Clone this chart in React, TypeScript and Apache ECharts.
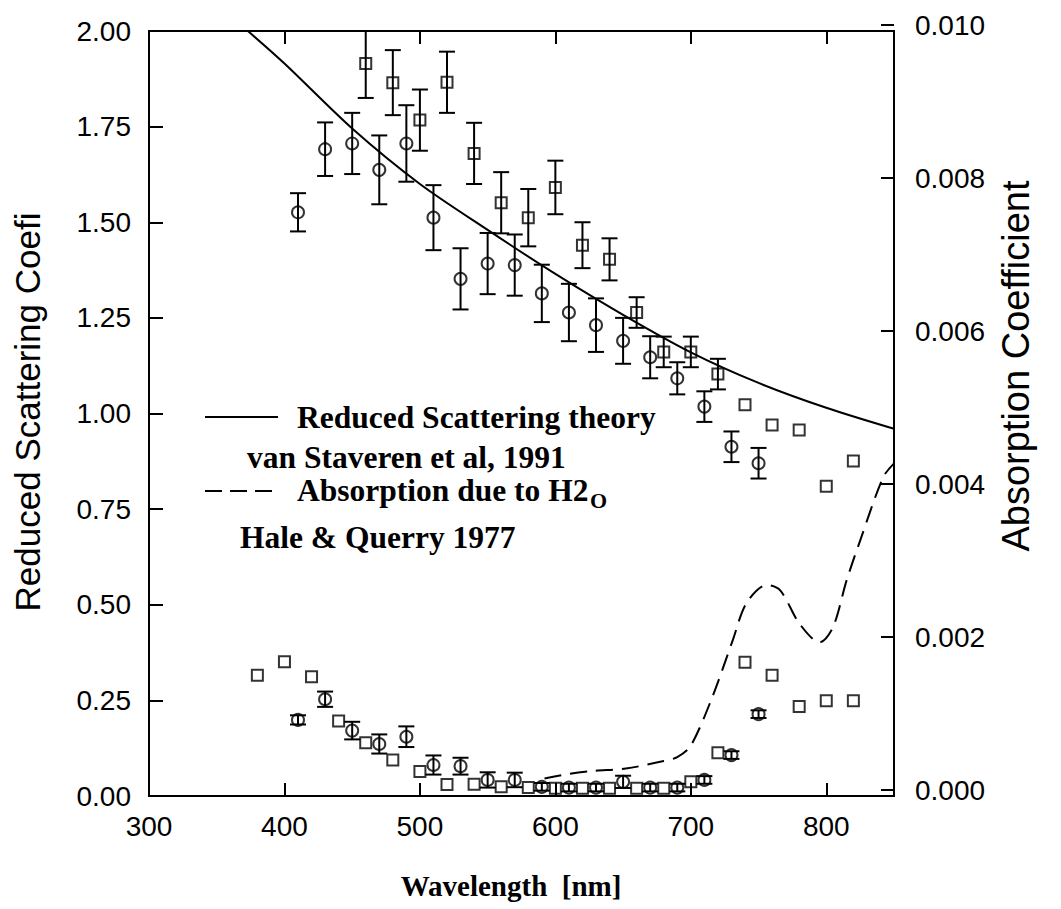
import React, { useEffect, useRef } from "react";
import * as echarts from "echarts";

// ---- data ----
const theoryWl = [373, 400, 450, 500, 550, 600, 650, 700, 750, 800, 850];
const theoryVal = [2.0, 1.915, 1.745, 1.6, 1.48, 1.365, 1.258, 1.16, 1.08, 1.015, 0.96];

const absWl = [592, 610, 628, 652, 680, 690, 700, 716, 731, 741, 756, 766, 780, 795, 805, 815, 825, 842, 850];
const absVal = [0.00015, 0.00021, 0.00025, 0.00028, 0.00038, 0.00043, 0.00058, 0.00122, 0.00196, 0.00244, 0.00268, 0.00261, 0.00218, 0.00193, 0.00213, 0.00274, 0.00326, 0.00409, 0.00427];

const upperCircleWl = [410, 430, 450, 470, 490, 510, 530, 550, 570, 590, 610, 630, 650, 670, 690, 710, 730, 750];
const upperCircleVal = [1.526, 1.691, 1.706, 1.637, 1.706, 1.512, 1.352, 1.392, 1.388, 1.314, 1.264, 1.231, 1.19, 1.147, 1.092, 1.018, 0.913, 0.87];
const upperCircleErr = [0.05, 0.07, 0.08, 0.09, 0.1, 0.085, 0.08, 0.08, 0.08, 0.075, 0.075, 0.07, 0.06, 0.055, 0.042, 0.04, 0.04, 0.04];

const upperSquareWl = [460, 480, 500, 520, 540, 560, 580, 600, 620, 640, 660, 680, 700, 720, 740, 760, 780, 800, 820];
const upperSquareVal = [1.915, 1.865, 1.767, 1.866, 1.68, 1.551, 1.512, 1.591, 1.44, 1.403, 1.264, 1.161, 1.161, 1.103, 1.023, 0.97, 0.957, 0.81, 0.876];
const upperSquareErr = [0.09, 0.085, 0.08, 0.08, 0.08, 0.08, 0.075, 0.07, 0.06, 0.055, 0.04, 0.04, 0.04, 0.04, 0, 0, 0, 0, 0];

const lowerSquareWl = [380, 400, 420, 440, 460, 480, 500, 520, 540, 560, 580, 600, 620, 640, 660, 680, 700, 720, 740, 760, 780, 800, 820];
const lowerSquareVal = [0.316, 0.351, 0.312, 0.196, 0.139, 0.094, 0.064, 0.03, 0.031, 0.024, 0.022, 0.02, 0.02, 0.02, 0.02, 0.02, 0.037, 0.113, 0.35, 0.316, 0.234, 0.249, 0.249];

const lowerCircleWl = [410, 430, 450, 470, 490, 510, 530, 550, 570, 590, 610, 630, 650, 670, 690, 710, 730, 750];
const lowerCircleVal = [0.199, 0.253, 0.171, 0.136, 0.155, 0.081, 0.078, 0.042, 0.042, 0.024, 0.022, 0.022, 0.037, 0.022, 0.022, 0.042, 0.107, 0.214];
const lowerCircleErr = [0.012, 0.02, 0.023, 0.025, 0.027, 0.025, 0.022, 0.02, 0.019, 0.01, 0.01, 0.01, 0.016, 0.01, 0.01, 0.01, 0.01, 0.01];

const leftTickLabels = ["0.00", "0.25", "0.50", "0.75", "1.00", "1.25", "1.50", "1.75", "2.00"];
const rightTickLabels = ["0.000", "0.002", "0.004", "0.006", "0.008", "0.010"];

// ---- helpers ----
const pairs = (xs: number[], ys: number[]) => xs.map((x, i) => [x, ys[i]]);
const errTriples = (xs: number[], ys: number[], es: number[]) =>
  xs
    .map((x, i) => [x, ys[i] - es[i], ys[i] + es[i], es[i]])
    .filter((d) => d[3] > 0)
    .map((d) => [d[0], d[1], d[2]]);

const SANS = "'Liberation Sans', Arial, Helvetica, sans-serif";
const SERIF = "'Liberation Serif', 'Times New Roman', serif";

const errorRender = (params: any, api: any) => {
  const x = api.value(0);
  const lo = api.value(1);
  const hi = api.value(2);
  const pHi = api.coord([x, hi]);
  const pLo = api.coord([x, lo]);
  const w = 8;
  const st = { stroke: "#000", lineWidth: 2 };
  return {
    type: "group",
    children: [
      { type: "line", shape: { x1: pHi[0], y1: pHi[1], x2: pLo[0], y2: pLo[1] }, style: st },
      { type: "line", shape: { x1: pHi[0] - w, y1: pHi[1], x2: pHi[0] + w, y2: pHi[1] }, style: st },
      { type: "line", shape: { x1: pLo[0] - w, y1: pLo[1], x2: pLo[0] + w, y2: pLo[1] }, style: st },
    ],
  };
};

const textEl = (
  text: string,
  x: number,
  y: number,
  size: number,
  family: string,
  weight: string,
  align: string,
  rotation = 0
) => ({
  type: "text",
  x,
  y,
  rotation,
  silent: true,
  style: {
    text,
    fill: "#000",
    fontSize: size,
    fontFamily: family,
    fontWeight: weight,
    align,
    verticalAlign: "middle",
    textAlign: align,
    textVerticalAlign: "middle",
  },
});

export default function App() {
  const ref = useRef<HTMLDivElement>(null);

  useEffect(() => {
    document.body.style.margin = "0";
    if (!ref.current) return;
    const chart = echarts.init(ref.current, null, { renderer: "svg" });

    const axisLine = { show: true, onZero: false, lineStyle: { color: "#000", width: 2 } };
    const tick = (len: number) => ({ show: true, inside: true, length: len, lineStyle: { color: "#000", width: 2 } });
    const labelStyle = { color: "#000", fontSize: 28, fontFamily: SANS };

    const scatterStyle = { color: "rgba(0,0,0,0)", borderColor: "#000", borderWidth: 2 };

    const option: any = {
      animation: false,
      backgroundColor: "#fff",
      grid: [
        { left: 149, top: 31, width: 745, height: 765, show: true, borderColor: "#000", borderWidth: 2, backgroundColor: "transparent" },
        { left: 149, top: 25, width: 745, height: 765, show: false },
      ],
      xAxis: [
        {
          gridIndex: 0,
          type: "value",
          min: 300,
          max: 850,
          interval: 100,
          position: "bottom",
          axisLine,
          axisTick: tick(13),
          axisLabel: { ...labelStyle, margin: 16, showMaxLabel: false },
          splitLine: { show: false },
        },
        {
          gridIndex: 0,
          type: "value",
          min: 300,
          max: 850,
          interval: 100,
          position: "top",
          axisLine,
          axisTick: tick(13),
          axisLabel: { show: false },
          splitLine: { show: false },
        },
        { gridIndex: 1, type: "value", min: 300, max: 850, show: false },
      ],
      yAxis: [
        {
          gridIndex: 0,
          type: "value",
          min: 0,
          max: 2,
          interval: 0.25,
          position: "left",
          axisLine,
          axisTick: tick(14),
          axisLabel: {
            ...labelStyle,
            margin: 18,
            formatter: (v: number) => leftTickLabels[Math.round(v / 0.25)] ?? "",
          },
          splitLine: { show: false },
        },
        {
          gridIndex: 1,
          type: "value",
          min: 0,
          max: 0.01,
          interval: 0.002,
          position: "right",
          axisLine: { show: false },
          axisTick: tick(13),
          axisLabel: {
            ...labelStyle,
            margin: 21,
            formatter: (v: number) => rightTickLabels[Math.round(v / 0.002)] ?? "",
          },
          splitLine: { show: false },
        },
      ],
      series: [
        {
          type: "custom",
          xAxisIndex: 0,
          yAxisIndex: 0,
          renderItem: errorRender,
          data: errTriples(upperCircleWl, upperCircleVal, upperCircleErr),
          silent: true,
          clip: true,
          z: 3,
        },
        {
          type: "custom",
          xAxisIndex: 0,
          yAxisIndex: 0,
          renderItem: errorRender,
          data: errTriples(upperSquareWl, upperSquareVal, upperSquareErr),
          silent: true,
          clip: true,
          z: 3,
        },
        {
          type: "custom",
          xAxisIndex: 0,
          yAxisIndex: 0,
          renderItem: errorRender,
          data: errTriples(lowerCircleWl, lowerCircleVal, lowerCircleErr),
          silent: true,
          clip: true,
          z: 3,
        },
        {
          type: "scatter",
          xAxisIndex: 0,
          yAxisIndex: 0,
          symbol: "circle",
          symbolSize: 12,
          itemStyle: scatterStyle,
          data: pairs(upperCircleWl, upperCircleVal),
          silent: true,
          z: 4,
        },
        {
          type: "scatter",
          xAxisIndex: 0,
          yAxisIndex: 0,
          symbol: "circle",
          symbolSize: 12,
          itemStyle: scatterStyle,
          data: pairs(lowerCircleWl, lowerCircleVal),
          silent: true,
          z: 4,
        },
        {
          type: "scatter",
          xAxisIndex: 0,
          yAxisIndex: 0,
          symbol: "rect",
          symbolSize: 11,
          itemStyle: scatterStyle,
          data: pairs(upperSquareWl, upperSquareVal),
          silent: true,
          z: 4,
        },
        {
          type: "scatter",
          xAxisIndex: 0,
          yAxisIndex: 0,
          symbol: "rect",
          symbolSize: 11,
          itemStyle: scatterStyle,
          data: pairs(lowerSquareWl, lowerSquareVal),
          silent: true,
          z: 4,
        },
        {
          type: "line",
          xAxisIndex: 0,
          yAxisIndex: 0,
          showSymbol: false,
          smooth: 0.3,
          lineStyle: { color: "#000", width: 2 },
          data: pairs(theoryWl, theoryVal),
          silent: true,
          clip: true,
          z: 2,
        },
        {
          type: "line",
          xAxisIndex: 2,
          yAxisIndex: 1,
          showSymbol: false,
          smooth: 0.3,
          lineStyle: { color: "#000", width: 2, type: [17, 9] },
          data: pairs(absWl, absVal),
          silent: true,
          clip: true,
          z: 2,
        },
      ],
      graphic: [
        textEl("Reduced Scattering Coefi", 27, 412, 35, SANS, "normal", "center", Math.PI / 2),
        textEl("Absorption Coefficient", 1016, 366, 38, SANS, "normal", "center", Math.PI / 2),
        textEl("Wavelength  [nm]", 511, 886, 29, SERIF, "bold", "center"),
        {
          type: "line",
          silent: true,
          shape: { x1: 205, y1: 417, x2: 278, y2: 417 },
          style: { stroke: "#000", lineWidth: 2 },
        },
        textEl("Reduced Scattering theory", 297, 417.5, 31.5, SERIF, "bold", "left"),
        textEl("van Staveren et al, 1991", 247, 457.5, 31.5, SERIF, "bold", "left"),
        {
          type: "line",
          silent: true,
          shape: { x1: 205, y1: 491, x2: 278, y2: 491 },
          style: { stroke: "#000", lineWidth: 2, lineDash: [17, 8] },
        },
        textEl("Absorption due to H2", 297, 490, 31.5, SERIF, "bold", "left"),
        textEl("O", 590, 500, 22, SERIF, "bold", "left"),
        textEl("Hale & Querry 1977", 240, 537, 31.5, SERIF, "bold", "left"),
      ],
    };

    chart.setOption(option);
    return () => {
      chart.dispose();
    };
  }, []);

  return (
    <div
      ref={ref}
      style={{ position: "absolute", left: 0, top: 0, width: 1061, height: 909, background: "#fff" }}
    />
  );
}
